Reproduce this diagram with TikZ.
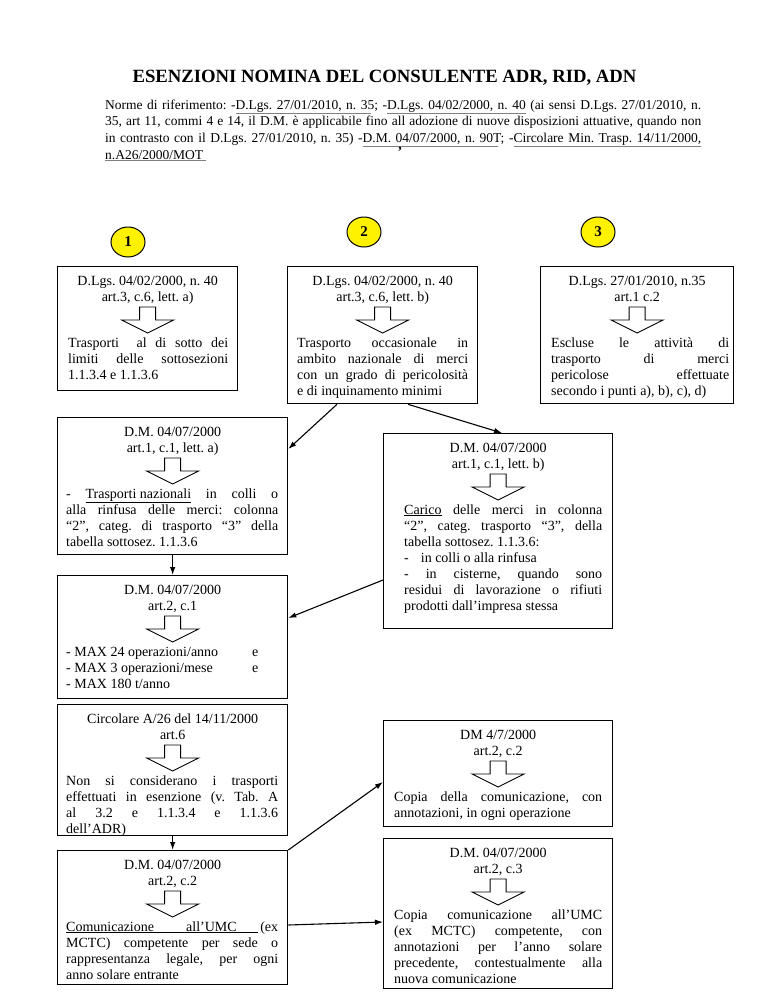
\documentclass[tikz,border=0pt]{standalone}
\usepackage{fontspec}
\setmainfont{Liberation Serif}
\usetikzlibrary{calc,shapes.geometric,arrows.meta}

\newcommand\boxfont{\fontsize{14}{16}\selectfont\frenchspacing}
\newcommand\reffont{\fontsize{13.5}{16.7}\selectfont\frenchspacing}
\newcommand\gul[1]{\leavevmode\rlap{\textcolor{gray}{\underline{\phantom{#1}}}}#1}

\tikzset{
  bx/.style={draw=black, line width=1.3pt, inner sep=0pt},
  hdr/.style={anchor=base, inner sep=0pt, font=\boxfont},
  bdy/.style={anchor=base west, inner sep=0pt, font=\boxfont, align=justify},
  conn/.style={line width=1.1pt, -{Latex[length=8pt,width=5.5pt]}},
  num/.style={ellipse, draw=black, line width=1pt, fill=yellow, minimum width=34pt,
    minimum height=30pt, inner sep=0pt, font=\fontsize{15}{15}\selectfont\bfseries},
  hollowarrow/.pic={\draw[line width=0.9pt] (-8,0) -- (8,0) -- (8,13) -- (26,13) -- (0,26) -- (-26,13) -- (-8,13) -- cycle;}
}

\def\bpad{12}
% name, x, y, w, h, header1, header2, body, body text width
\newcommand\lawbox[9]{%
  \node[bx, minimum width=#4pt, minimum height=#5pt, anchor=north west] (#1) at (#2,#3) {};
  \node[hdr] (#1-h1) at ($(#1.north)+(0,19)$) {#6};
  \node[hdr] (#1-h2) at ($(#1.north)+(0,35)$) {#7};
  \pic at ($(#1.north)+(0,41)$) {hollowarrow};
  \node[bdy, text width=#9pt] (#1-t) at ($(#1.north west)+(\bpad,81)$) {#8};
}

\begin{document}
\begin{tikzpicture}[x=1pt,y=-1pt]
\fill[white] (0,0) rectangle (768,994);
\useasboundingbox (0,0) rectangle (768,994);

% title
\node[anchor=base, inner sep=0pt, font=\fontsize{18.7}{20}\selectfont\bfseries] (title) at (384.5,82)
  {ESENZIONI NOMINA DEL CONSULENTE ADR, RID, ADN};

% references paragraph
\node[anchor=base west, inner sep=0pt, text width=596pt, align=justify, font=\reffont] (refs) at (105,109)
  {Norme di riferimento: -\gul{D.Lgs. 27/01/2010, n. 35}; -\gul{D.Lgs. 04/02/2000, n. 40 }(ai sensi D.Lgs. 27/01/2010, n.\linebreak
   35, art 11, commi 4 e 14, il D.M. è applicabile fino all adozione di nuove disposizioni attuative, quando non\linebreak
   in contrasto con il D.Lgs. 27/01/2010, n. 35) -\gul{D.M. 04/07/2000, n. 90T}; -\gul{Circolare Min. Trasp. 14/11/2000, }\linebreak
   \gul{n.A26/2000/MOT }};
\node[inner sep=0pt, font=\fontsize{14}{14}\selectfont\bfseries] (mark) at (400,152) {’};

% numbered circles
\node[num] (n1) at (128,242) {1};
\node[num] (n2) at (364,232) {2};
\node[num] (n3) at (598,232) {3};

% top row
\def\bpad{11}
\lawbox{b1}{57}{266}{180}{124}{D.Lgs. 04/02/2000, n. 40}{art.3, c.6, lett. a)}
  {Trasporti\ \ al di sotto dei\linebreak limiti delle sottosezioni\linebreak 1.1.3.4 e 1.1.3.6}{160}
\def\bpad{10}
\lawbox{b2}{287}{266}{190}{137}{D.Lgs. 04/02/2000, n. 40}{art.3, c.6, lett. b)}
  {Trasporto occasionale in\linebreak ambito nazionale di merci\linebreak con un grado di pericolosità\linebreak e di inquinamento minimi}{171}
\def\bpad{11}
\lawbox{b3}{540}{266}{193}{137}{D.Lgs. 27/01/2010, n.35}{art.1 c.2}
  {Escluse le attività di\linebreak trasporto di merci\linebreak pericolose effettuate\linebreak \mbox{secondo i punti a), b), c), d)}}{178}

% left column
\def\bpad{9}
\lawbox{b4}{57}{417}{230}{137}{D.M. 04/07/2000}{art.1, c.1, lett. a)}
  {- \underline{Trasporti nazionali} in colli o\linebreak alla rinfusa delle merci: colonna\linebreak “2”, categ. di trasporto “3” della\linebreak tabella sottosez. 1.1.3.6}{212}
\lawbox{b6}{57}{575}{230}{123}{D.M. 04/07/2000}{art.2, c.1}
  {\makebox[186pt][l]{- MAX 24 operazioni/anno}e\\ \makebox[186pt][l]{- MAX 3 operazioni/mese}e\\ - MAX 180 t/anno}{212}
\lawbox{b7}{57}{704}{230}{131}{Circolare A/26 del 14/11/2000}{art.6}
  {Non si considerano i trasporti\linebreak effettuati in esenzione (v. Tab. A\linebreak al 3.2 e 1.1.3.4 e 1.1.3.6\linebreak dell’ADR)}{212}
\lawbox{b8}{57}{850}{230}{134}{D.M. 04/07/2000}{art.2, c.2}
  {\underline{\makebox[192pt][s]{Comunicazione\ \ \ all’UMC\ \ }}\hfill(ex\\ MCTC) competente per sede o\linebreak rappresentanza legale, per ogni\linebreak anno solare entrante}{212}

% right column
\def\bpad{21}
\lawbox{b5}{383}{433}{229}{195}{D.M. 04/07/2000}{art.1, c.1, lett. b)}
  {\underline{Carico} delle merci in colonna\linebreak “2”, categ. trasporto “3”, della\linebreak tabella sottosez. 1.1.3.6:\\ -\hspace{12pt}in colli o alla rinfusa\\ - in cisterne, quando sono\linebreak residui di lavorazione o rifiuti\linebreak prodotti dall’impresa stessa}{198}
\def\bpad{11}
\lawbox{b9}{383}{720}{229}{106}{DM 4/7/2000}{art.2, c.2}
  {Copia della comunicazione, con\linebreak annotazioni, in ogni operazione}{208}
\lawbox{b10}{383}{838}{229}{150}{D.M. 04/07/2000}{art.2, c.3}
  {Copia comunicazione all’UMC\linebreak (ex MCTC) competente, con\linebreak annotazioni per l’anno solare\linebreak precedente, contestualmente alla\linebreak nuova comunicazione}{208}

% connectors
\coordinate (a1s) at ($(b2.south west)+(50,0)$);
\coordinate (a1e) at ($(b4.north east)+(0,32)$);
\draw[conn] (a1s) -- (a1e);
\coordinate (a2s) at ($(b2.south west)+(121,0)$);
\coordinate (a2e) at ($(b5.north west)+(119,0)$);
\draw[conn] (a2s) -- (a2e);
\draw[conn] (b4.south) -- (b6.north);
\coordinate (a4s) at ($(b5.north west)+(0,147)$);
\coordinate (a4e) at ($(b6.north east)+(0,43)$);
\draw[conn] (a4s) -- (a4e);
\draw[conn] (b7.south) -- (b8.north);
\coordinate (a6e) at ($(b9.north west)+(0,62)$);
\draw[conn] (b8.north east) -- (a6e);
\coordinate (a7s) at ($(b8.north east)+(0,75)$);
\coordinate (a7e) at ($(b10.north west)+(0,84)$);
\draw[conn] (a7s) -- (a7e);
\end{tikzpicture}
\end{document}
